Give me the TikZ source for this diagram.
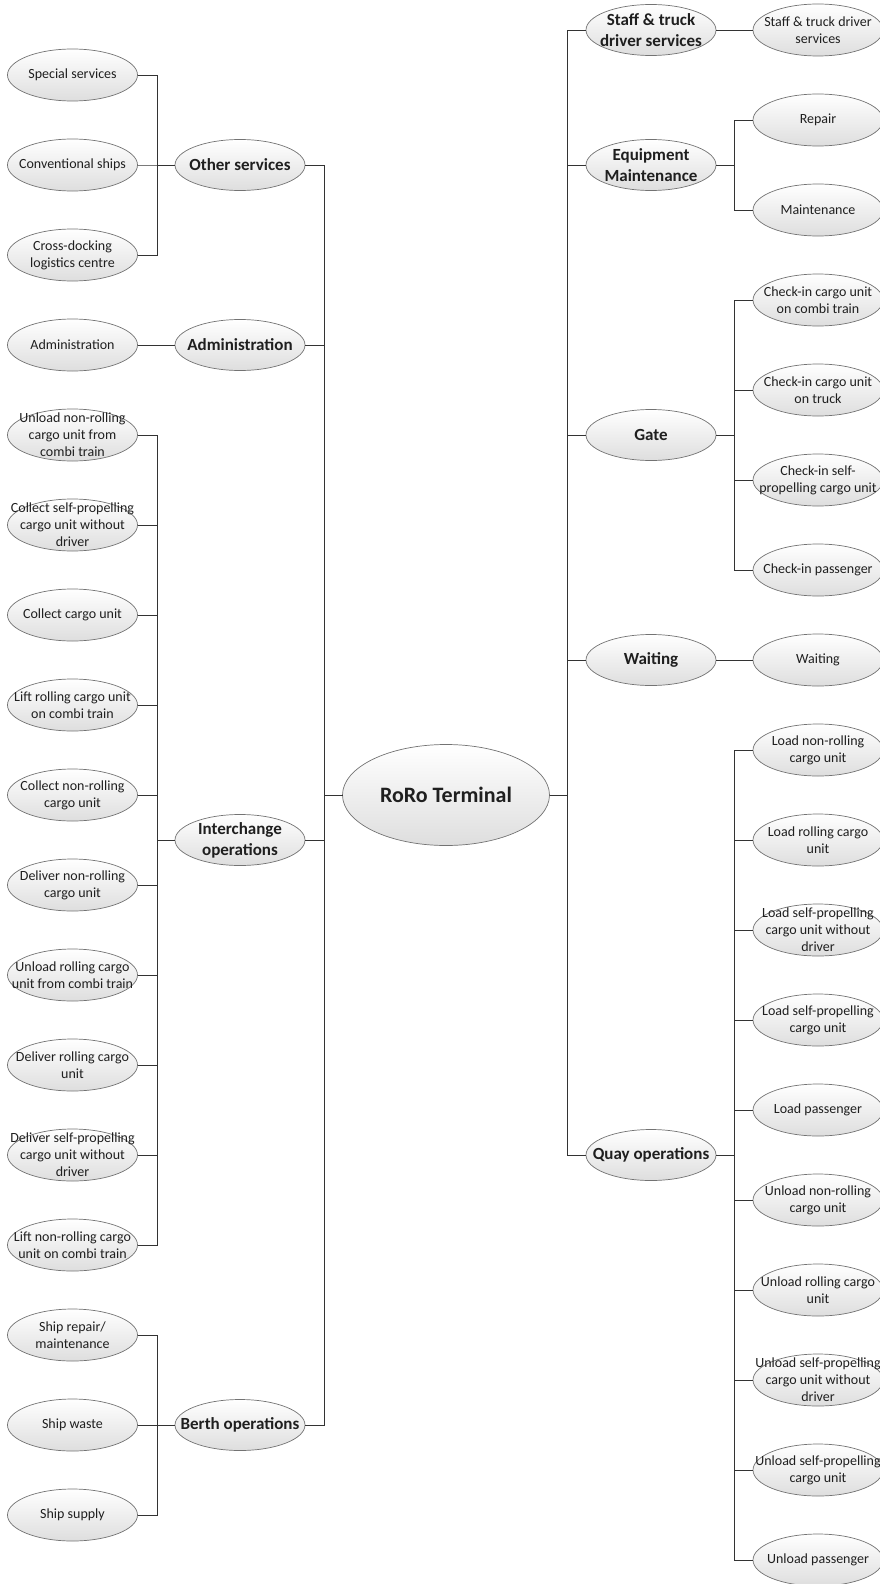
\documentclass[tikz,border=0pt]{standalone}
\usepackage{fontspec}
\setmainfont{Carlito}
\usetikzlibrary{shapes,positioning}

\tikzset{
  txt/.style={align=center,text=black!88,inner sep=0pt},
  leaftext/.style={txt,font=\fontsize{14}{17}\selectfont},
  partext/.style={txt,font=\bfseries\fontsize{17}{21}\selectfont},
  bubble/.style={ellipse,draw=black!55,line width=0.7pt,top color=white,bottom color=black!13,
    inner sep=0pt,outer sep=0pt},
  leaf/.style={bubble,minimum width=130pt,minimum height=52pt,label={[leaftext]center:#1}},
  par/.style={bubble,minimum width=130pt,minimum height=51pt,label={[partext]center:#1}},
  link/.style={draw=black!80,line width=0.8pt}
}

\begin{document}
\begin{tikzpicture}[x=1pt,y=-1pt,node distance=38pt]
\useasboundingbox (0,0) rectangle (879,1584);

% centre
\node[bubble,minimum width=207pt,minimum height=101pt,
  label={[txt,font=\bfseries\fontsize{22}{26}\selectfont]center:RoRo Terminal}] (rt) at (446,795) {};

% left leaves
\node[leaf=Special services] (a1) at (72.5,75) {};
\node[leaf=Conventional ships,below=of a1] (a2) {};
\node[leaf={Cross-docking\\logistics centre},below=of a2] (a3) {};
\node[leaf=Administration,below=of a3] (a4) {};
\node[leaf={Unload non-rolling\\cargo unit from\\combi train},below=of a4] (a5) {};
\node[leaf={Collect self-propelling\\cargo unit without\\driver},below=of a5] (a6) {};
\node[leaf=Collect cargo unit,below=of a6] (a7) {};
\node[leaf={Lift rolling cargo unit\\on combi train},below=of a7] (a8) {};
\node[leaf={Collect non-rolling\\cargo unit},below=of a8] (a9) {};
\node[leaf={Deliver non-rolling\\cargo unit},below=of a9] (a10) {};
\node[leaf={Unload rolling cargo\\unit from combi train},below=of a10] (a11) {};
\node[leaf={Deliver rolling cargo\\unit},below=of a11] (a12) {};
\node[leaf={Deliver self-propelling\\cargo unit without\\driver},below=of a12] (a13) {};
\node[leaf={Lift non-rolling cargo\\unit on combi train},below=of a13] (a14) {};
\node[leaf={Ship repair/\\maintenance},below=of a14] (a15) {};
\node[leaf=Ship waste,below=of a15] (a16) {};
\node[leaf=Ship supply,below=of a16] (a17) {};

% left groups
\node[par=Other services] (p1) at (240,165) {};
\node[par=Administration] (p2) at (240,345) {};
\node[par={Interchange\\operations}] (p3) at (240,840) {};
\node[par=Berth operations] (p4) at (240,1425) {};

% right groups
\node[par={Staff \& truck\\driver services}] (q1) at (651,30) {};
\node[par={Equipment\\Maintenance}] (q2) at (651,165) {};
\node[par=Gate] (q3) at (651,435) {};
\node[par=Waiting] (q4) at (651,660) {};
\node[par=Quay operations] (q5) at (651,1155) {};

% right leaves
\node[leaf={Staff \& truck driver\\services}] (b1) at (818,30) {};
\node[leaf=Repair,below=of b1] (b2) {};
\node[leaf=Maintenance,below=of b2] (b3) {};
\node[leaf={Check-in cargo unit\\on combi train},below=of b3] (b4) {};
\node[leaf={Check-in cargo unit\\on truck},below=of b4] (b5) {};
\node[leaf={Check-in self-\\propelling cargo unit},below=of b5] (b6) {};
\node[leaf=Check-in passenger,below=of b6] (b7) {};
\node[leaf=Waiting,below=of b7] (b8) {};
\node[leaf={Load non-rolling\\cargo unit},below=of b8] (b9) {};
\node[leaf={Load rolling cargo\\unit},below=of b9] (b10) {};
\node[leaf={Load self-propelling\\cargo unit without\\driver},below=of b10] (b11) {};
\node[leaf={Load self-propelling\\cargo unit},below=of b11] (b12) {};
\node[leaf=Load passenger,below=of b12] (b13) {};
\node[leaf={Unload non-rolling\\cargo unit},below=of b13] (b14) {};
\node[leaf={Unload rolling cargo\\unit},below=of b14] (b15) {};
\node[leaf={Unload self-propelling\\cargo unit without\\driver},below=of b15] (b16) {};
\node[leaf={Unload self-propelling\\cargo unit},below=of b16] (b17) {};
\node[leaf=Unload passenger,below=of b17] (b18) {};

% left side links
\draw[link] (a1.east) -- ++(19.5,0) |- (p1.west);
\draw[link] (a2.east) -- ++(19.5,0) |- (p1.west);
\draw[link] (a3.east) -- ++(19.5,0) |- (p1.west);
\draw[link] (a4.east) -- (p2.west);
\draw[link] (a5.east) -- ++(19.5,0) |- (p3.west);
\draw[link] (a6.east) -- ++(19.5,0) |- (p3.west);
\draw[link] (a7.east) -- ++(19.5,0) |- (p3.west);
\draw[link] (a8.east) -- ++(19.5,0) |- (p3.west);
\draw[link] (a9.east) -- ++(19.5,0) |- (p3.west);
\draw[link] (a10.east) -- ++(19.5,0) |- (p3.west);
\draw[link] (a11.east) -- ++(19.5,0) |- (p3.west);
\draw[link] (a12.east) -- ++(19.5,0) |- (p3.west);
\draw[link] (a13.east) -- ++(19.5,0) |- (p3.west);
\draw[link] (a14.east) -- ++(19.5,0) |- (p3.west);
\draw[link] (a15.east) -- ++(19.5,0) |- (p4.west);
\draw[link] (a16.east) -- ++(19.5,0) |- (p4.west);
\draw[link] (a17.east) -- ++(19.5,0) |- (p4.west);

\draw[link] (p1.east) -- ++(19,0) |- (rt.west);
\draw[link] (p2.east) -- ++(19,0) |- (rt.west);
\draw[link] (p3.east) -- ++(19,0) |- (rt.west);
\draw[link] (p4.east) -- ++(19,0) |- (rt.west);

% right side links
\draw[link] (rt.east) -- ++(18,0) |- (q1.west);
\draw[link] (rt.east) -- ++(18,0) |- (q2.west);
\draw[link] (rt.east) -- ++(18,0) |- (q3.west);
\draw[link] (rt.east) -- ++(18,0) |- (q4.west);
\draw[link] (rt.east) -- ++(18,0) |- (q5.west);

\draw[link] (q1.east) -- (b1.west);
\draw[link] (q2.east) -- ++(18,0) |- (b2.west);
\draw[link] (q2.east) -- ++(18,0) |- (b3.west);
\draw[link] (q3.east) -- ++(18,0) |- (b4.west);
\draw[link] (q3.east) -- ++(18,0) |- (b5.west);
\draw[link] (q3.east) -- ++(18,0) |- (b6.west);
\draw[link] (q3.east) -- ++(18,0) |- (b7.west);
\draw[link] (q4.east) -- (b8.west);
\draw[link] (q5.east) -- ++(18,0) |- (b9.west);
\draw[link] (q5.east) -- ++(18,0) |- (b10.west);
\draw[link] (q5.east) -- ++(18,0) |- (b11.west);
\draw[link] (q5.east) -- ++(18,0) |- (b12.west);
\draw[link] (q5.east) -- ++(18,0) |- (b13.west);
\draw[link] (q5.east) -- ++(18,0) |- (b14.west);
\draw[link] (q5.east) -- ++(18,0) |- (b15.west);
\draw[link] (q5.east) -- ++(18,0) |- (b16.west);
\draw[link] (q5.east) -- ++(18,0) |- (b17.west);
\draw[link] (q5.east) -- ++(18,0) |- (b18.west);
\end{tikzpicture}
\end{document}
